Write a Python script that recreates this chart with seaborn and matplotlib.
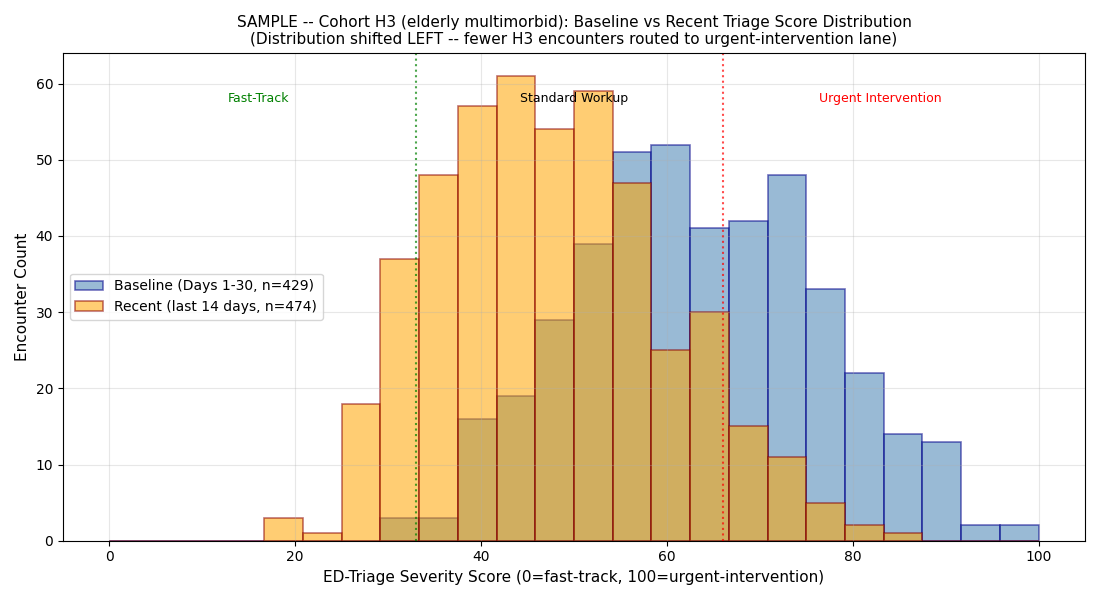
import numpy as np
import pandas as pd
import matplotlib
matplotlib.use("Agg")
import matplotlib.pyplot as plt
from matplotlib.colors import to_rgba
import seaborn as sns

# 24 bins across 0-100
n_bins = 24
bin_edges = np.linspace(0, 100, n_bins + 1)
bin_centers = (bin_edges[:-1] + bin_edges[1:]) / 2

baseline_counts = [0, 0, 0, 0, 0, 0, 0, 3, 3, 16, 19, 29, 39, 51, 52, 41, 42, 48, 33, 22, 14, 13, 2, 2]
recent_counts = [0, 0, 0, 0, 3, 1, 18, 37, 48, 57, 61, 54, 59, 47, 25, 30, 15, 11, 5, 2, 1, 0, 0, 0]

baseline_label = "Baseline (Days 1-30, n=429)"
recent_label = "Recent (last 14 days, n=474)"

zone_cuts = [33, 66]
zone_names = ["Fast-Track", "Standard Workup", "Urgent Intervention"]
zone_pos = [16, 50, 83]
zone_colors = ["green", "black", "red"]

df = pd.DataFrame({"score": bin_centers, "baseline": baseline_counts, "recent": recent_counts})

fig, ax = plt.subplots(figsize=(11, 6), dpi=100)

sns.histplot(data=df, x="score", weights="baseline", bins=n_bins, binrange=(0, 100), ax=ax,
             color="steelblue", edgecolor=to_rgba("darkblue", 0.55), alpha=0.55, linewidth=1.2,
             label=baseline_label)
sns.histplot(data=df, x="score", weights="recent", bins=n_bins, binrange=(0, 100), ax=ax,
             color="orange", edgecolor=to_rgba("darkred", 0.55), alpha=0.55, linewidth=1.2,
             label=recent_label)

ax.axvline(zone_cuts[0], color="green", linestyle=":", alpha=0.7, linewidth=1.5)
ax.axvline(zone_cuts[1], color="red", linestyle=":", alpha=0.7, linewidth=1.5)

ymax = max(max(baseline_counts), max(recent_counts))
ax.set_ylim(0, ymax * 1.05)
ax.set_xlim(-5, 105)
for name, xpos, c in zip(zone_names, zone_pos, zone_colors):
    ax.text(xpos, ymax * 0.951, name, ha="center", va="center", fontsize=9, color=c)

ax.set_xlabel("ED-Triage Severity Score (0=fast-track, 100=urgent-intervention)", fontsize=11)
ax.set_ylabel("Encounter Count", fontsize=11)
ax.set_title("SAMPLE -- Cohort H3 (elderly multimorbid): Baseline vs Recent Triage Score Distribution\n"
             "(Distribution shifted LEFT -- fewer H3 encounters routed to urgent-intervention lane)",
             fontsize=11)
ax.legend(loc="center left", fontsize=10)
ax.grid(True, alpha=0.3)

plt.tight_layout()
plt.savefig("out.png", dpi=100)
